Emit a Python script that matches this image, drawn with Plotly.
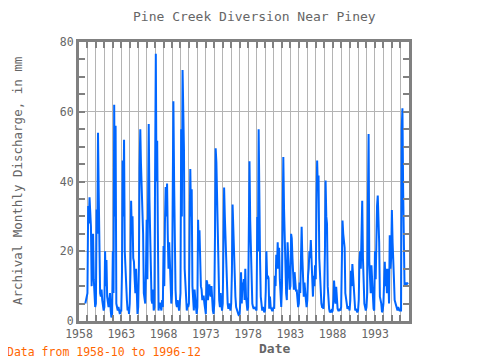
import pandas as pd
import plotly.graph_objects as go

# Monthly discharge (mm), starting 1958-10
values_1958_1969 = [
    5, 6, 7,
    8, 33, 28, 35.5, 30, 27, 10, 15, 25, 12, 6, 4,
    5, 32, 25, 54, 37, 14, 8, 7, 9, 6, 4, 3,
    4, 20, 10, 17.5, 7, 5, 4, 6, 8, 3, 1, 2,
    20, 8, 62, 30, 56, 5, 4, 3, 4, 3, 2, 3,
    3, 14, 46, 30, 52, 20, 14, 8, 6, 3, 4, 2,
    5, 14, 34.5, 25, 30, 18, 17, 12, 8, 15, 6, 2,
    4, 16, 44, 55, 45, 38, 30, 25, 8, 6, 5, 14,
    29, 12, 35, 56.5, 35, 25, 9, 6, 5, 9, 3, 4,
    42.7, 76.6, 40, 51.7, 25, 3, 5, 5, 4, 3, 6, 4,
    21.5, 10, 28, 38.4, 30, 39.4, 25, 15, 22.6, 17, 11, 5,
    8, 30, 63, 40, 20, 9, 5, 4, 6, 4, 3, 5,
]
values_1970_1979 = [
    8, 55, 30, 72, 60, 49, 15, 9, 4, 3, 5, 4,
    5, 22.6, 43.6, 30, 37.8, 10, 6, 3, 9, 5, 4, 2,
    4, 29, 20, 26, 13, 10, 9, 6, 7, 7, 5, 3,
    2, 11.7, 11, 6, 10, 10.5, 8, 7, 10, 5, 3, 2,
    5, 25, 49.5, 45.5, 35, 26, 9, 6, 4, 8, 5, 3,
    5, 21, 38.3, 30, 23, 15, 7, 5, 3.5, 5, 4, 3,
    5, 14, 33.4, 25, 20, 14, 7, 4, 3, 2.5, 2, 1.5,
    2, 6, 14, 5, 11, 9, 12, 6, 15, 7, 4, 3,
    4, 24.6, 45.8, 28.8, 20, 12, 5, 4, 3.5, 4, 3.5, 3,
    3, 29.8, 20, 55, 30, 17.4, 7, 4, 3, 4, 3, 2.5,
]
values_1980_1989 = [
    3, 8.4, 20, 12, 13, 12.3, 3.5, 7, 4, 3, 3, 3,
    4, 3.5, 13, 10, 19, 15, 22.6, 15, 21, 12, 7, 4,
    10, 27.4, 47, 32.2, 20, 14, 8, 6, 22.6, 18, 12, 9,
    10, 25, 23.7, 18, 13, 9, 14, 12, 8.5, 9, 6, 4,
    5, 11, 8, 19, 27, 18, 14, 7, 11, 7, 6, 4,
    6, 13, 15, 20, 18, 23.2, 15, 10, 7, 13, 10, 16,
    12, 34, 46, 38, 41.7, 18, 13, 6, 5, 4, 4, 3.5,
    8, 20, 40.3, 30, 27.9, 10, 5, 3.5, 2.5, 3, 3, 2.5,
    3, 6, 11.6, 8, 5, 9.8, 5, 3.5, 3, 3, 3.5, 3,
    4, 13, 28.8, 25, 22.6, 21, 8, 6, 5, 3.5, 4, 4,
]
values_1990_1996 = [
    3, 6, 14.4, 10, 16.3, 13, 7, 5, 3, 3.5, 3, 2.5,
    3, 6, 17, 20, 15, 25, 34.5, 18, 8, 5, 4, 3,
    4, 8, 33, 53.6, 17, 10, 8, 16, 10, 5, 3.5, 3,
    20, 12, 25, 33, 36, 30, 22.6, 7, 6, 5, 2.5, 3,
    5, 12.3, 17, 10, 15, 8, 15, 12, 5, 24.6, 15, 18,
    31.8, 22.6, 14, 12, 6, 5, 4, 3, 3, 4, 3, 3,
    3, 3, 55, 61, 38, 10.5, 10, 10.5, 11, 10.5, 11, 11,
]

start_month = "1958-10-01"
title_text = "Pine Creek Diversion Near Piney"
y_title = "Archival Monthly Discharge, in mm"
x_title = "<b>Date</b>"
footer_text = "Data from 1958-10 to 1996-12"
tick_years = list(range(1958, 1997))
label_years = [1958, 1963, 1968, 1973, 1978, 1983, 1988, 1993]
y_ticks = [0, 20, 40, 60, 80]

values = values_1958_1969 + values_1970_1979 + values_1980_1989 + values_1990_1996
dates = pd.date_range(start_month, periods=len(values), freq="MS")

FONT = "DejaVu Sans Mono"
GREY = "#666666"
AXIS = "#808080"

# The page body has an 8px margin; the figure is sized/offset to compensate.
OFF = 8
PL, PR, PT, PB = 79, 409, 42, 321  # plot area in screen pixels
W, H = 480 - OFF, 360 - OFF


def px2paper(sx, sy):
    return (sx - PL) / (PR - PL), (PB - sy) / (PB - PT)


fig = go.Figure()
fig.add_trace(go.Scatter(
    x=dates, y=values, mode="lines",
    line=dict(color="#0066ff", width=2),
    hoverinfo="skip", showlegend=False,
))

annots = []
for text, sx, sy, size, color, angle, xanchor in [
    (title_text, 254, 17, 13, GREY, 0, "center"),
    (x_title, 274, 348, 13, GREY, 0, "center"),
    (y_title, 17, 181, 12.5, GREY, -90, "center"),
    (footer_text, 5, 352, 11.5, "#ff6600", 0, "left"),
]:
    px, py = px2paper(sx, sy)
    annots.append(dict(text=text, x=px, y=py, xref="paper", yref="paper",
                       xanchor=xanchor, yanchor="middle", showarrow=False,
                       textangle=angle,
                       font=dict(family=FONT, size=size, color=color)))

fig.update_layout(
    width=W, height=H,
    margin=dict(l=PL - OFF, r=W - (PR - OFF), t=PT - OFF, b=H - (PB - OFF),
                autoexpand=False),
    paper_bgcolor="white", plot_bgcolor="white",
    font=dict(family=FONT, size=11, color=GREY),
    showlegend=False,
    annotations=annots,
)

fig.update_xaxes(
    type="date",
    range=["1958-01-01", "1997-01-10"],
    tickvals=[f"{y}-01-01" for y in tick_years],
    ticktext=[str(y) if y in label_years else "" for y in tick_years],
    ticks="inside", ticklen=6, tickwidth=2, tickcolor=AXIS,
    showgrid=True, gridcolor="#b4b4b4", gridwidth=1,
    showline=True, linecolor=AXIS, linewidth=3, mirror="allticks",
    zeroline=False, tickangle=0,
    tickfont=dict(family=FONT, size=11.5, color=GREY),
)
fig.update_yaxes(
    range=[0, 80],
    tickvals=y_ticks,
    ticks="inside", ticklen=6, tickwidth=2, tickcolor=AXIS,
    showgrid=True, gridcolor="#b4b4b4", gridwidth=1,
    minor=dict(dtick=5, tick0=0, ticks="inside", ticklen=6, tickwidth=2,
               tickcolor=AXIS, showgrid=False),
    showline=True, linecolor=AXIS, linewidth=3, mirror="allticks",
    zeroline=False,
    tickfont=dict(family=FONT, size=11.5, color=GREY),
)

fig.write_html("out.html")
